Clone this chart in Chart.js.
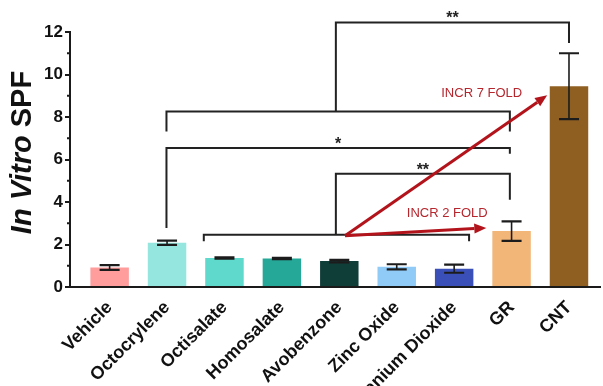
<!DOCTYPE html>
<html>
<head>
<meta charset="utf-8">
<script src="https://cdn.jsdelivr.net/npm/chart.js@4.4.1/dist/chart.umd.min.js"></script>
<style>
html,body{margin:0;padding:0;background:#fff;}
#wrap{width:603px;height:386px;position:relative;}
</style>
</head>
<body>
<div id="wrap"><canvas id="c"></canvas></div>
<script>
// ---- data ----
const categories = ['Vehicle','Octocrylene','Octisalate','Homosalate','Avobenzone','Zinc Oxide','Titanium Dioxide','GR','CNT'];
const spfMean  = [0.92, 2.08, 1.36, 1.34, 1.22, 0.95, 0.86, 2.63, 9.45];
const spfError = [0.11, 0.10, 0.03, 0.03, 0.06, 0.12, 0.19, 0.46, 1.55];
const yTickValues = [0, 2, 4, 6, 8, 10, 12];
const yTitleItalic = 'In Vitro';
const yTitleRest = ' SPF';

// ---- styles / annotations ----
const barColors = ['#FF9C9C','#94E6DE','#5ED9CB','#26A898','#0F3D38','#90CAF7','#3A50B8','#F2B679','#8F5F22'];
const FONT = '"Liberation Sans", Arial, Helvetica, sans-serif';
// significance brackets in data units (x = category index, y = SPF)
const brackets = [
  {x1: 1.64, x2: 6.26, y: 2.46, d1: 2.15, d2: 2.15, label: ''},
  {x1: 3.94, x2: 6.97, y: 5.33, d1: 2.46, d2: 4.11, label: '**'},
  {x1: 0.99, x2: 6.97, y: 6.54, d1: 2.78, d2: 6.27, label: '*'},
  {x1: 0.99, x2: 6.97, y: 8.26, d1: 7.32, d2: 7.32, label: ''},
  {x1: 3.94, x2: 8.00, y: 12.45, d1: 8.26, d2: 11.48, label: '**'}
];
const arrows = [
  {from: {x: 4.10, y: 2.41}, to: {x: 6.56, y: 2.78}, text: 'INCR 2 FOLD', tx: 5.88, ty: 3.48},
  {from: {x: 4.10, y: 2.41}, to: {x: 7.62, y: 9.02}, text: 'INCR 7 FOLD', tx: 6.48, ty: 9.13}
];

const overlay = {
  id: 'overlay',
  afterDraw(chart) {
    const ctx = chart.ctx;
    const xs = chart.scales.x, ys = chart.scales.y;
    const px = v => xs.getPixelForValue(v), py = v => ys.getPixelForValue(v);
    const ca = chart.chartArea;
    ctx.save();
    // minor y ticks
    ctx.strokeStyle = '#1a1a1a'; ctx.lineWidth = 2;
    for (let i = 0; i < yTickValues.length - 1; i++) {
      const v = (yTickValues[i] + yTickValues[i+1]) / 2;
      ctx.beginPath(); ctx.moveTo(ca.left - 3, py(v)); ctx.lineTo(ca.left, py(v)); ctx.stroke();
    }
    // error bars
    ctx.strokeStyle = '#1c1c1c';
    spfMean.forEach((m, i) => {
      const cx = px(i), t = py(m + spfError[i]), b = py(m - spfError[i]);
      ctx.lineWidth = 1.6;
      ctx.beginPath(); ctx.moveTo(cx, t); ctx.lineTo(cx, b); ctx.stroke();
      ctx.lineWidth = 2.2;
      ctx.beginPath(); ctx.moveTo(cx - 10, t); ctx.lineTo(cx + 10, t);
      ctx.moveTo(cx - 10, b); ctx.lineTo(cx + 10, b); ctx.stroke();
    });
    // brackets
    ctx.strokeStyle = '#222'; ctx.lineWidth = 2;
    ctx.fillStyle = '#222';
    ctx.font = 'bold 16px ' + FONT;
    ctx.textAlign = 'center'; ctx.textBaseline = 'alphabetic';
    brackets.forEach(br => {
      ctx.beginPath();
      ctx.moveTo(px(br.x1), py(br.d1)); ctx.lineTo(px(br.x1), py(br.y));
      ctx.lineTo(px(br.x2), py(br.y)); ctx.lineTo(px(br.x2), py(br.d2));
      ctx.stroke();
      if (br.label) ctx.fillText(br.label, (px(br.x1) + px(br.x2)) / 2, py(br.y) + 1);
    });
    // red arrows
    const red = '#B3141B';
    arrows.forEach(a => {
      const x0 = px(a.from.x), y0 = py(a.from.y), x1 = px(a.to.x), y1 = py(a.to.y);
      const ang = Math.atan2(y1 - y0, x1 - x0);
      const hl = 12, hw = 5;
      ctx.strokeStyle = red; ctx.lineWidth = 3;
      ctx.beginPath(); ctx.moveTo(x0, y0);
      ctx.lineTo(x1 - hl * Math.cos(ang), y1 - hl * Math.sin(ang)); ctx.stroke();
      ctx.fillStyle = red;
      ctx.beginPath();
      ctx.moveTo(x1, y1);
      ctx.lineTo(x1 - hl * Math.cos(ang) + hw * Math.sin(ang), y1 - hl * Math.sin(ang) - hw * Math.cos(ang));
      ctx.lineTo(x1 - hl * Math.cos(ang) - hw * Math.sin(ang), y1 - hl * Math.sin(ang) + hw * Math.cos(ang));
      ctx.closePath(); ctx.fill();
      ctx.fillStyle = '#B5262D';
      ctx.font = '13px ' + FONT;
      ctx.textAlign = 'center'; ctx.textBaseline = 'middle';
      ctx.fillText(a.text, px(a.tx), py(a.ty));
    });
    // y title (mixed italic)
    ctx.fillStyle = '#111';
    ctx.translate(23, (ca.top + ca.bottom) / 2 - 7);
    ctx.rotate(-Math.PI / 2);
    const f1 = 'italic bold 29px ' + FONT, f2 = 'bold 29px ' + FONT;
    ctx.font = f1; const w1 = ctx.measureText(yTitleItalic).width;
    ctx.font = f2; const w2 = ctx.measureText(yTitleRest).width;
    ctx.textAlign = 'left'; ctx.textBaseline = 'middle';
    ctx.font = f1; ctx.fillText(yTitleItalic, -(w1 + w2) / 2, 0);
    ctx.font = f2; ctx.fillText(yTitleRest, -(w1 + w2) / 2 + w1, 0);
    ctx.restore();
  }
};

new Chart(document.getElementById('c'), {
  type: 'bar',
  data: {
    datasets: [{
      data: categories.map((c, i) => ({x: i, y: spfMean[i]})),
      backgroundColor: barColors,
      borderWidth: 0,
      barPercentage: 0.67,
      categoryPercentage: 1.0
    }]
  },
  options: {
    responsive: true,
    maintainAspectRatio: false,
    animation: false,
    layout: {padding: {top: 32, right: 3, left: 0, bottom: 0}},
    plugins: {legend: {display: false}, tooltip: {enabled: false}},
    scales: {
      x: {
        type: 'linear',
        offset: false,
        min: -0.69, max: 8.54,
        afterBuildTicks: s => { s.ticks = categories.map((c, i) => ({value: i})); },
        afterFit: s => { s.height = 99; },
        grid: {display: false},
        border: {display: true, color: '#1a1a1a', width: 2},
        ticks: {
          autoSkip: false, minRotation: 45, maxRotation: 45, padding: 2,
          color: '#111', font: {family: FONT, size: 18, weight: 'bold'},
          callback: v => categories[v]
        }
      },
      y: {
        min: 0, max: 12,
        afterBuildTicks: s => { s.ticks = yTickValues.map(v => ({value: v})); },
        afterFit: s => { s.width = 70; },
        grid: {display: true, drawOnChartArea: false, drawTicks: true, tickLength: 5, color: '#1a1a1a', lineWidth: 2},
        border: {display: true, color: '#1a1a1a', width: 2},
        ticks: {padding: 2, color: '#111', font: {family: FONT, size: 17, weight: 'bold'}}
      }
    }
  },
  plugins: [overlay]
});
</script>
</body>
</html>
